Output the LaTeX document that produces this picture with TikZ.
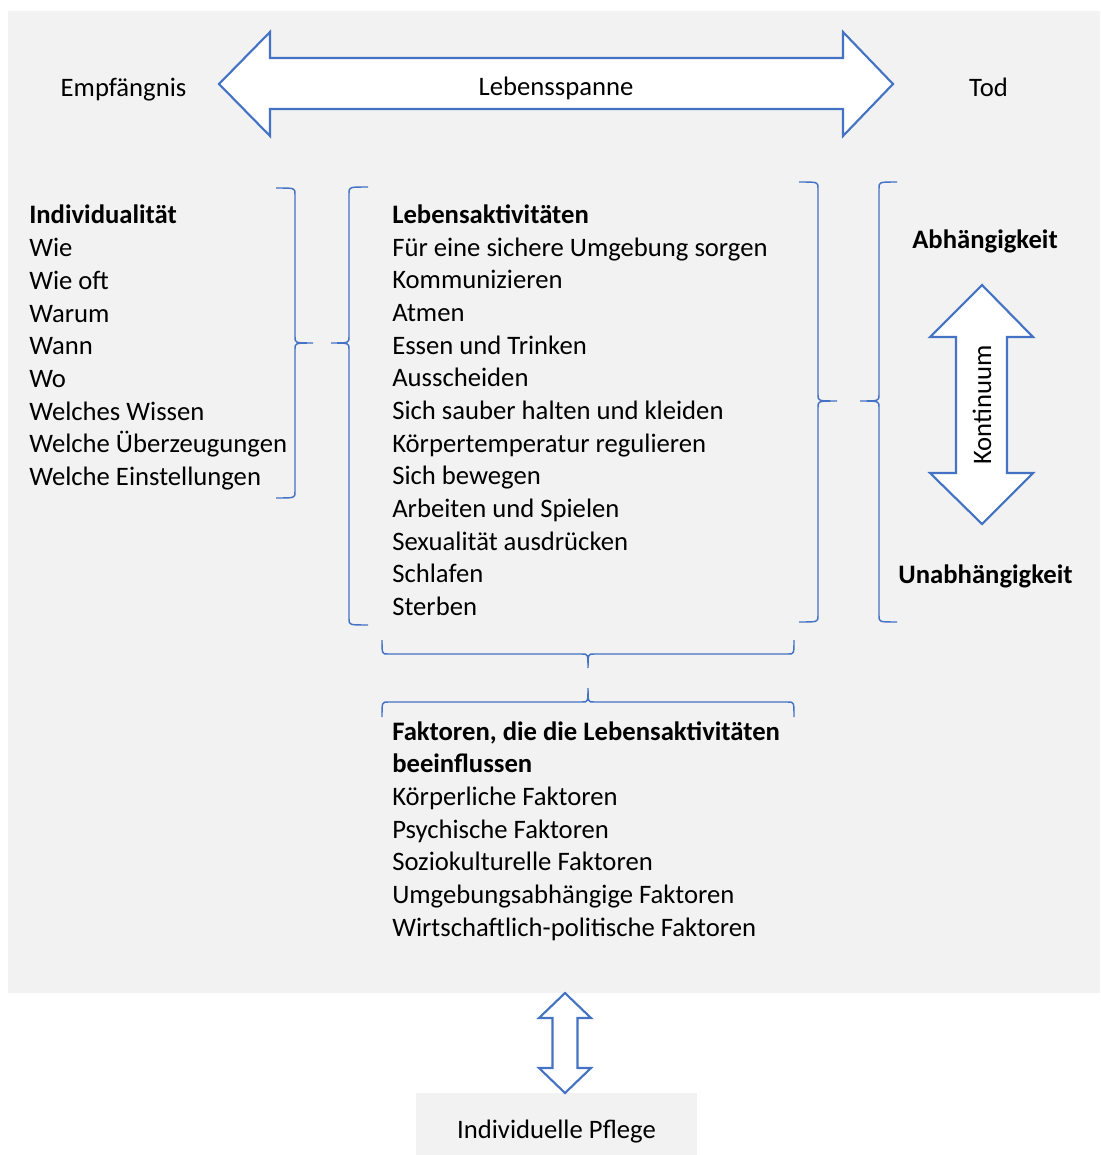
\documentclass[tikz,border=0pt]{standalone}
\usepackage{fontspec}
\setmainfont{Carlito}
\usepackage{tikz}
\usetikzlibrary{positioning}
\definecolor{ltblue}{HTML}{4472C4}
\definecolor{panelgray}{HTML}{F2F2F2}

% curly braces: end, spine, tip (across) and start, middle, end (along)
\newcommand{\vbrace}[6]{%
  \draw[curly] (#1,#4) .. controls (#2,#4) .. (#2,#4+6) -- (#2,#5-6)
    .. controls (#2,#5) .. (#3,#5) .. controls (#2,#5) .. (#2,#5+6)
    -- (#2,#6-6) .. controls (#2,#6) .. (#1,#6);}
\newcommand{\hbrace}[6]{%
  \draw[curly] (#4,#1) .. controls (#4,#2) .. (#4+6,#2) -- (#5-6,#2)
    .. controls (#5,#2) .. (#5,#3) .. controls (#5,#2) .. (#5+6,#2)
    -- (#6-6,#2) .. controls (#6,#2) .. (#6,#1);}

\begin{document}
\begin{tikzpicture}[
    x=0.75pt,
    y=-0.75pt,
    txt/.style={
        font=\fontsize{20}{24.5}\selectfont,
        inner sep=0pt
    },
    head/.style={
        font=\fontsize{20}{24.5}\selectfont\bfseries,
        inner sep=0pt
    },
    blockarrow/.style={
        draw=ltblue,
        fill=white,
        line width=1.6pt,
        line join=miter
    },
    curly/.style={
        draw=ltblue,
        line width=1.1pt
    }
]
\useasboundingbox (0,0) rectangle (1100,1155);

% Panel
\fill[panelgray] (8,11) rectangle (1100,993);

% Lebensspanne
\draw[blockarrow] (219,84) -- (270,32) -- (270,58) -- (843,58) -- (843,32)
  -- (893,84) -- (843,136) -- (843,109) -- (270,109) -- (270,136) -- cycle;
\node[txt, anchor=base] (span) at (556,96) {Lebensspanne};
\node[txt, anchor=base] (birth) at (123.5,97) {Empfängnis};
\node[txt, anchor=base] (death) at (988.5,97) {Tod};

% Individualitaet
\node[head, anchor=base west] (indiv) at (29,224) {Individualität};
\foreach \t [count=\i] in {Wie, Wie oft, Warum, Wann, Wo, Welches Wissen,
    Welche Überzeugungen, Welche Einstellungen}
  \node[txt, anchor=base west] (indiv\i) at (29,224+\i*32.67) {\t};

% Lebensaktivitaeten
\node[head, anchor=base west] (acts) at (392,224) {Lebensaktivitäten};
\foreach \t [count=\i] in {Für eine sichere Umgebung sorgen, Kommunizieren,
    Atmen, Essen und Trinken, Ausscheiden, Sich sauber halten und kleiden,
    Körpertemperatur regulieren, Sich bewegen, Arbeiten und Spielen,
    Sexualität ausdrücken, Schlafen, Sterben}
  \node[txt, anchor=base west] (acts\i) at (392,223.5+\i*32.67) {\t};

% Faktoren
\node[head, anchor=base west] (fact) at (392,740) {Faktoren, die die Lebensaktivitäten};
\node[head, anchor=base west] (fact0) at (392,740+32.67) {beeinflussen};
\foreach \t [count=\i from 2] in {Körperliche Faktoren, Psychische Faktoren,
    Soziokulturelle Faktoren, Umgebungsabhängige Faktoren,
    Wirtschaftlich-politische Faktoren}
  \node[txt, anchor=base west] (fact\i) at (392,740+\i*32.67) {\t};

% Kontinuum
\node[head, anchor=base] (dep) at (985,249) {Abhängigkeit};
\node[head, anchor=base] (indep) at (985.5,583) {Unabhängigkeit};
\draw[blockarrow] (982,285) -- (1033,337) -- (1007,337) -- (1007,473)
  -- (1033,473) -- (982,524) -- (930,473) -- (956,473) -- (956,337)
  -- (930,337) -- cycle;
\node[txt, rotate=90] (cont) at (982,405) {Kontinuum};

% Braces
\vbrace{276}{295}{313}{188}{343}{498}
\vbrace{368}{349}{331}{187}{343}{625}
\vbrace{799}{818}{837}{182}{401}{622}
\vbrace{897}{879}{860}{182}{401}{622}
\hbrace{640}{654}{668}{382}{588}{794}
\hbrace{717}{702}{688}{382}{588}{794}

% Individuelle Pflege
\node[txt, fill=panelgray, minimum width=210.75pt, minimum height=46.5pt,
  text height=21pt, text depth=0pt] (care) at (556.5,1124) {Individuelle Pflege};
\draw[blockarrow] (565,993) -- (591,1018) -- (577.5,1018) -- (577.5,1068)
  -- (591,1068) -- (565,1093) -- (539,1068) -- (552.5,1068) -- (552.5,1018)
  -- (539,1018) -- cycle;

\end{tikzpicture}
\end{document}
